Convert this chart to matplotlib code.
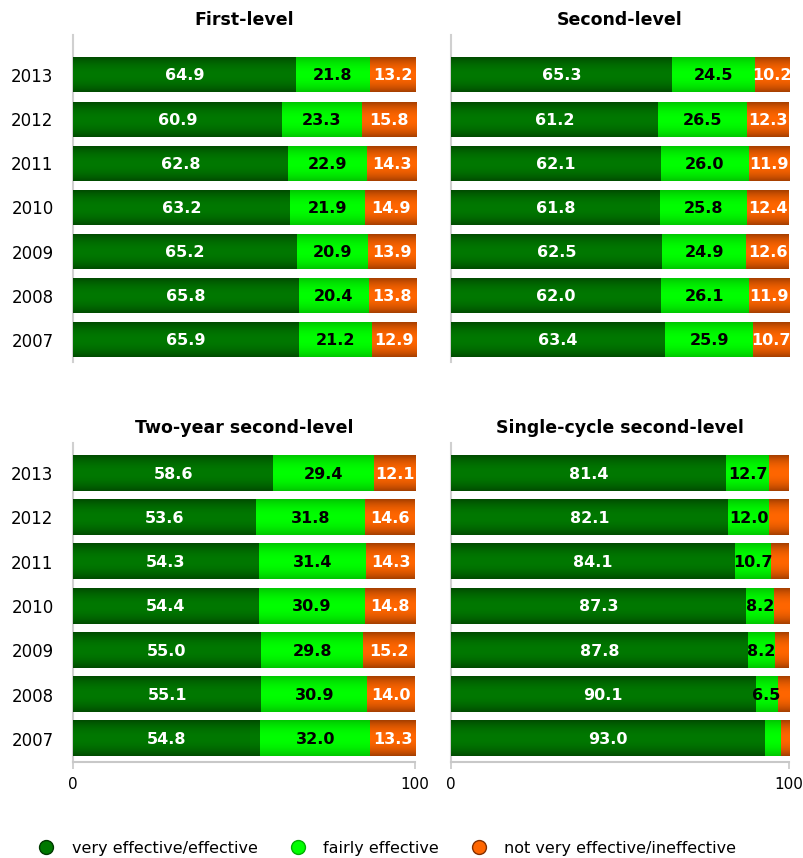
import numpy as np
import matplotlib
matplotlib.use("Agg")
import matplotlib.pyplot as plt
from matplotlib.lines import Line2D

years = ["2007", "2008", "2009", "2010", "2011", "2012", "2013"]
series_names = ["very effective/effective", "fairly effective", "not very effective/ineffective"]

# values listed 2007 -> 2013
first_eff = [65.9, 65.8, 65.2, 63.2, 62.8, 60.9, 64.9]
first_fair = [21.2, 20.4, 20.9, 21.9, 22.9, 23.3, 21.8]
first_not = [12.9, 13.8, 13.9, 14.9, 14.3, 15.8, 13.2]

second_eff = [63.4, 62.0, 62.5, 61.8, 62.1, 61.2, 65.3]
second_fair = [25.9, 26.1, 24.9, 25.8, 26.0, 26.5, 24.5]
second_not = [10.7, 11.9, 12.6, 12.4, 11.9, 12.3, 10.2]

two_eff = [54.8, 55.1, 55.0, 54.4, 54.3, 53.6, 58.6]
two_fair = [32.0, 30.9, 29.8, 30.9, 31.4, 31.8, 29.4]
two_not = [13.3, 14.0, 15.2, 14.8, 14.3, 14.6, 12.1]

single_eff = [93.0, 90.1, 87.8, 87.3, 84.1, 82.1, 81.4]
single_fair = [4.6, 6.5, 8.2, 8.2, 10.7, 12.0, 12.7]
single_not = [2.4, 3.4, 4.0, 4.5, 5.2, 5.9, 5.9]

panels = [
    ("First-level", first_eff, first_fair, first_not),
    ("Second-level", second_eff, second_fair, second_not),
    ("Two-year second-level", two_eff, two_fair, two_not),
    ("Single-cycle second-level", single_eff, single_fair, single_not),
]

center_cols = ["#007800", "#00ff00", "#ff6600"]
edge_cols = ["#003a00", "#00b000", "#833000"]
text_cols = ["white", "black", "white"]

def grad_img(edge, center, n=64):
    t = np.linspace(0, 1, n)
    f = np.clip(np.sin(np.pi * (t * 0.9 + 0.05)), 0, 1) ** 0.7
    e = np.array(matplotlib.colors.to_rgb(edge))
    c = np.array(matplotlib.colors.to_rgb(center))
    rgb = e[None, :] * (1 - f[:, None]) + c[None, :] * f[:, None]
    return rgb[:, None, :]

W, H = 804, 858
fig = plt.figure(figsize=(W / 100, H / 100), dpi=100)

def px_axes(x0, x1, ytop, ybot):
    return fig.add_axes([x0 / W, 1 - ybot / H, (x1 - x0) / W, (ybot - ytop) / H])

axes_specs = [
    (73, 416, 35, 362, (-0.5, 6.906), False),
    (451, 789, 35, 362, (-0.5, 6.906), False),
    (73, 415, 443, 762, (-0.52, 6.68), True),
    (451, 789, 443, 762, (-0.52, 6.68), True),
]

ypos = np.arange(len(years))
bh = 0.79
for (title, eff, fair, nott), (x0, x1, yt, yb, ylim, show_x) in zip(panels, axes_specs):
    ax = px_axes(x0, x1, yt, yb)
    left = np.zeros(len(years))
    for k, vals in enumerate([eff, fair, nott]):
        vals = np.array(vals)
        bars = ax.barh(ypos, vals, left=left, height=bh, color=center_cols[k], linewidth=0, zorder=2)
        img = grad_img(edge_cols[k], center_cols[k])
        for p, v in zip(bars.patches, vals):
            bx, by = p.get_x(), p.get_y()
            ax.imshow(img, extent=(bx, bx + p.get_width(), by, by + p.get_height()),
                      aspect="auto", zorder=3, interpolation="bilinear")
            if v >= 6:
                ax.text(bx + p.get_width() / 2, by + p.get_height() / 2 - 0.02, f"{v:.1f}",
                        ha="center", va="center", color=text_cols[k], fontsize=11.5,
                        fontweight="bold", zorder=5)
        left = left + vals
    ax.set_xlim(0, 100)
    ax.set_ylim(*ylim)
    ax.set_yticks(ypos)
    ax.set_yticklabels(years if x0 < 200 else [""] * len(years), fontsize=12)
    ax.tick_params(axis="y", length=0, pad=14)
    ax.set_title(title, fontsize=12.5, fontweight="bold", pad=7)
    for s in ["top", "right"]:
        ax.spines[s].set_visible(False)
    ax.spines["left"].set_color("#d0d0d0")
    ax.spines["left"].set_linewidth(1.5)
    if show_x:
        ax.spines["bottom"].set_color("#c8c8c8")
        ax.spines["bottom"].set_linewidth(1.5)
        ax.set_xticks([0, 100])
        ax.set_xticklabels(["0", "100"], fontsize=11)
        ax.tick_params(axis="x", length=5, color="#c8c8c8", width=1.2, pad=6)
    else:
        ax.spines["bottom"].set_visible(False)
        ax.set_xticks([])

handles = [Line2D([0], [0], marker="o", linestyle="none", markersize=10,
                  markerfacecolor=center_cols[k], markeredgecolor=edge_cols[k])
           for k in range(3)]
fig.legend(handles, series_names, loc="center left", bbox_to_anchor=(16 / W, 1 - 848 / H),
           ncol=3, frameon=False, fontsize=11.5, handletextpad=0.6, columnspacing=1.5)

fig.savefig("out.png", dpi=100)
